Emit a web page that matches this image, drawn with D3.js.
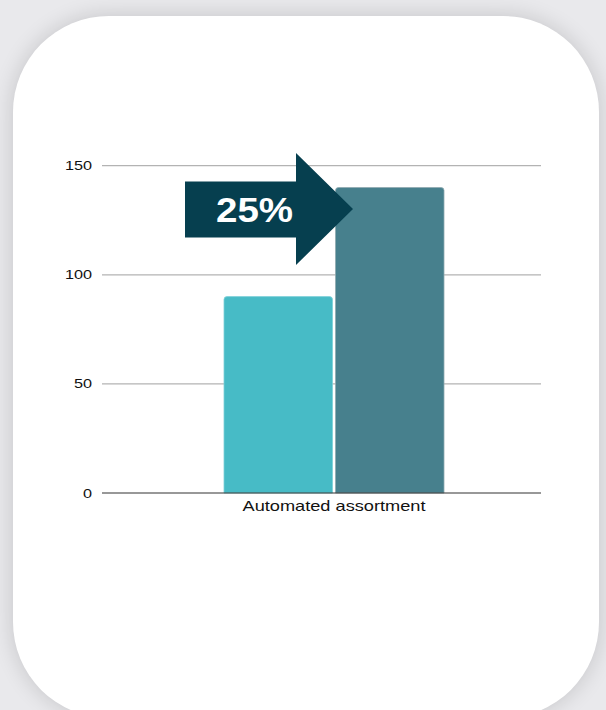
<!DOCTYPE html>
<html><head><meta charset="utf-8">
<script src="https://cdn.jsdelivr.net/npm/d3@7"></script>
<style>
html,body{margin:0;padding:0;width:606px;height:710px;overflow:hidden;background:#e9e9ec;}
#card{position:absolute;left:13px;top:16px;width:586px;height:702px;background:#fff;border-radius:96px;box-shadow:0 0 22px rgba(0,0,0,0.16);}
svg{position:absolute;left:0;top:0;}
</style></head>
<body>
<div id="card"></div>
<svg id="chart" width="606" height="710"></svg>
<script>
const categories = ["Automated assortment"];
const seriesNames = ["Before", "After"];
const seriesValues = [[90, 140]];
const yTicks = [0, 50, 100, 150];
const changeLabel = "25%";
const colors = ["#47bbc6", "#47808d"];

const FONT = "Liberation Sans, Arial, Helvetica, sans-serif";
const svg = d3.select("#chart");
const y = d3.scaleLinear().domain([0, 150]).range([493, 165.7]);
const gridX = d3.scaleLinear().domain([0, 1]).range([102, 541]);
const x0 = d3.scaleBand().domain(categories).range([224, 444]).padding(0);
const x1 = d3.scaleBand().domain(seriesNames).range([0, x0.bandwidth()]).paddingInner(0.027);

// gridlines
svg.append("g").selectAll("line").data(yTicks.filter(t => t > 0)).join("line")
  .attr("x1", gridX(0)).attr("x2", gridX(1))
  .attr("y1", d => y(d)).attr("y2", d => y(d))
  .attr("stroke", "#b3b3b3").attr("stroke-width", 1.2);

// y axis labels
const yAxis = d3.axisLeft(y).tickValues(yTicks).tickSize(0).tickPadding(0);
const ya = svg.append("g").attr("transform", `translate(92,0)`).call(yAxis);
ya.select(".domain").remove();
ya.selectAll("text").attr("font-family", FONT)
  .attr("font-size", 12.5).attr("fill", "#111")
  .attr("x", 0).attr("dy", null).attr("y", 4)
  .attr("transform", "scale(1.3,1)");

// bars
const groups = svg.append("g").selectAll("g").data(categories).join("g")
  .attr("transform", d => `translate(${x0(d)},0)`);
groups.selectAll("path").data((d, i) => seriesNames.map((s, j) => ({s, v: seriesValues[i][j], j})))
  .join("path")
  .attr("d", d => {
    const x = x1(d.s), w = x1.bandwidth(), top = y(d.v), bot = y(0), r = 3;
    return `M${x},${bot}V${top + r}Q${x},${top} ${x + r},${top}H${x + w - r}Q${x + w},${top} ${x + w},${top + r}V${bot}Z`;
  })
  .attr("fill", d => colors[d.j])
  .attr("stroke", d => d.j === 0 ? "#7fd0d8" : "#8fa9b0").attr("stroke-width", 0.8);

// baseline
svg.append("line").attr("x1", gridX(0)).attr("x2", gridX(1))
  .attr("y1", y(0)).attr("y2", y(0)).attr("stroke", "#333").attr("stroke-width", 1.2);

// x axis label
const xAxis = d3.axisBottom(x0).tickSize(0).tickPadding(0);
const xa = svg.append("g").attr("transform", `translate(0,${y(0)})`).call(xAxis);
xa.select(".domain").remove();
xa.selectAll("text").attr("font-family", FONT)
  .attr("font-size", 14).attr("fill", "#111")
  .attr("dy", null).attr("y", 18.5)
  .attr("transform", "scale(1.3,1)");

// arrow annotation
const ax0 = 185, axBodyEnd = 296, tipX = 353;
const bodyTop = 181.5, bodyBot = 237.5, headTop = 153, headBot = 265, midY = (headTop + headBot) / 2;
svg.append("path")
  .attr("d", `M${ax0},${bodyTop}H${axBodyEnd}V${headTop}L${tipX},${midY}L${axBodyEnd},${headBot}V${bodyBot}H${ax0}Z`)
  .attr("fill", "#063f4f");
svg.append("g").attr("transform", "translate(254.5,222) scale(1.1,1)")
  .append("text").attr("x", 0).attr("y", 0)
  .attr("text-anchor", "middle").attr("font-family", FONT)
  .attr("font-weight", "bold").attr("font-size", 35).attr("fill", "#fff").text(changeLabel);
</script>
</body></html>
